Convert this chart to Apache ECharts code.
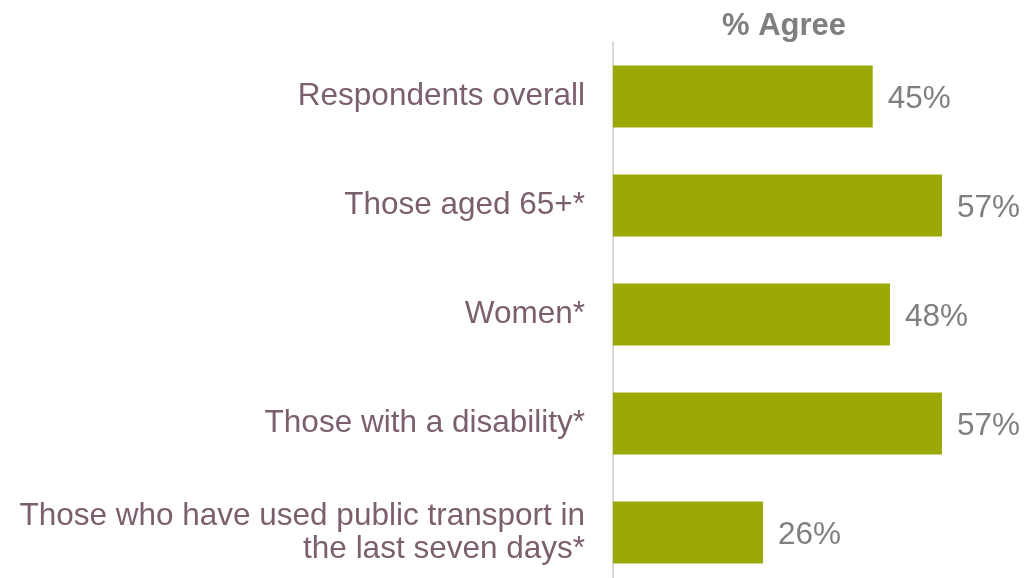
<!DOCTYPE html>
<html>
<head>
<meta charset="utf-8">
<script src="https://cdn.jsdelivr.net/npm/echarts@6/dist/echarts.min.js"></script>
<style>
    html, body { margin: 0; padding: 0; background: #fff; }
    #chart { width: 1025px; height: 578px; }
</style>
</head>
<body>
<div id="chart"></div>
<script>
var categories = [
    'Respondents overall',
    'Those aged 65+*',
    'Women*',
    'Those with a disability*',
    'Those who have used public transport in\nthe last seven days*'
];
var agree = [45, 57, 48, 57, 26];

var myChart = echarts.init(document.getElementById('chart'));

var option = {
    animation: false,
    textStyle: {
        fontFamily: '"Liberation Sans", Arial, sans-serif'
    },
    title: {
        text: '% Agree',
        left: 779,
        textAlign: 'center',
        top: 6,
        textStyle: {
            color: '#7f7f7f',
            fontSize: 31,
            fontWeight: 'bold',
            fontFamily: '"Liberation Sans", Arial, sans-serif'
        }
    },
    grid: {
        left: 613,
        top: 42,
        width: 404,
        height: 545,
        containLabel: false,
        outerBoundsMode: 'none'
    },
    xAxis: {
        type: 'value',
        min: 0,
        max: 70,
        show: false
    },
    yAxis: {
        type: 'category',
        inverse: true,
        data: categories,
        axisLine: { show: true, lineStyle: { color: '#d9d9d9', width: 2 } },
        axisTick: { show: false },
        axisLabel: {
            margin: 28,
            color: '#7b5f6e',
            fontSize: 31.5,
            lineHeight: 33,
            align: 'right',
            padding: [6, 0, 0, 0]
        }
    },
    series: [{
        name: '% Agree',
        type: 'bar',
        data: agree,
        barWidth: 62,
        itemStyle: { color: '#9aa905' },
        label: {
            show: true,
            position: 'right',
            distance: 15,
            offset: [0, 3],
            formatter: '{c}%',
            color: '#7f7f7f',
            fontSize: 31.5
        }
    }]
};

myChart.setOption(option);
</script>
</body>
</html>
